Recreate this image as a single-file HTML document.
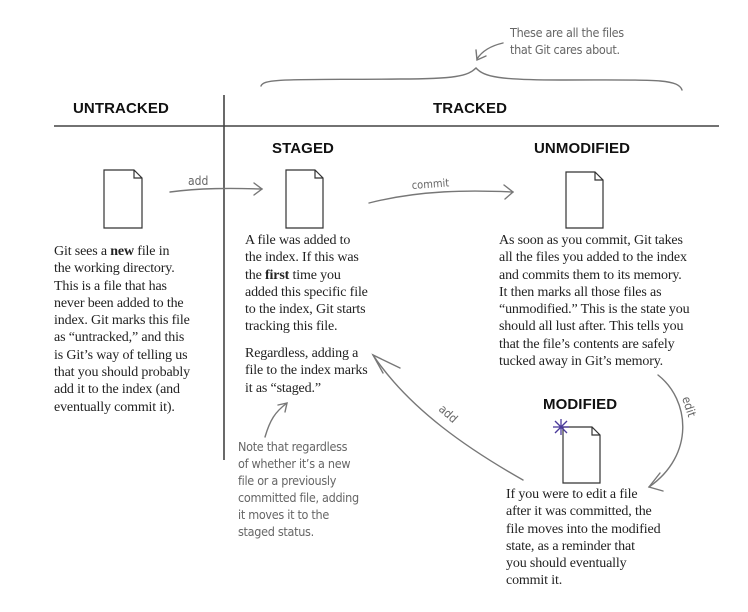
<!DOCTYPE html><html><head><style>
body{margin:0;width:748px;height:612px;background:#fff;position:relative;overflow:hidden}
.h{position:absolute;font:bold 15px/18px "Liberation Sans",sans-serif;color:#111;letter-spacing:0.1px}
.t{position:absolute;font:14px/17.3px "Liberation Serif",serif;color:#222;letter-spacing:-0.15px;white-space:pre}
.n{position:absolute;font:12.5px/17px "DejaVu Sans Condensed","DejaVu Sans",sans-serif;color:#666;white-space:pre;letter-spacing:-0.3px}
svg{position:absolute;left:0;top:0}
</style></head><body>
<svg width="748" height="612">
<g fill="none" stroke="#444" stroke-width="1.6">
<line x1="54" y1="126" x2="719" y2="126"/>
<line x1="224" y1="95" x2="224" y2="460"/>
</g>
<g fill="#fff" stroke="#333" stroke-width="1.2">
<path d="M104 170h30l8 8v50h-38z M134 170v8h8"/>
<path d="M286 170h29l8 8v50h-37z M315 170v8h8"/>
<path d="M566 172h29l8 8v48h-37z M595 172v8h8"/>
<path d="M563 427h29l8 8v48h-37z M592 427v8h8"/>
</g>
<g stroke="#4a3a9a" stroke-width="1.3"><line x1="553" y1="427" x2="569" y2="427"/><line x1="561" y1="419" x2="561" y2="435"/><line x1="555" y1="421" x2="567" y2="433"/><line x1="567" y1="421" x2="555" y2="433"/></g>
<g fill="none" stroke="#777" stroke-width="1.4" stroke-linecap="round">
<path d="M261 86 C264 78 290 80 400 79 C455 79 468 76 476 68 C484 77 500 80 560 80 C650 80 678 78 682 90"/>
<path d="M503 43 C490 46 482 51 477 59"/><path d="M476 50 L477 60 L486 56"/>
<path d="M170 192 C200 188 230 188 262 189"/><path d="M254 183 L262 189 L254 195"/>
<path d="M369 203 C420 190 470 190 513 192"/><path d="M504 185 L513 192 L505 199"/>
<path d="M658 375 C690 400 695 455 649 487"/><path d="M660 473 L649 487 L663 491"/>
<path d="M523 480 C470 450 410 410 373 355"/><path d="M383 373 L373 355 L400 368"/>
<path d="M265 437 C270 420 275 412 287 403"/><path d="M278 405 L287 403 L285 412"/>
</g>
<text x="188" y="185" font-family="DejaVu Sans Condensed,sans-serif" font-size="12" fill="#666">add</text>
<text x="412" y="189" font-family="DejaVu Sans Condensed,sans-serif" font-size="11" fill="#666" transform="rotate(-4 412 189)">commit</text>
<text x="438" y="410" font-family="DejaVu Sans Condensed,sans-serif" font-size="12" fill="#666" transform="rotate(42 438 410)">add</text>
<text x="682" y="398" font-family="DejaVu Sans Condensed,sans-serif" font-size="12" fill="#666" transform="rotate(72 682 398)">edit</text>
</svg>
<div class="n" style="left:510px;top:24px">These are all the files
that Git cares about.</div>
<div class="h" style="left:73px;top:100px">UNTRACKED</div>
<div class="h" style="left:433px;top:100px">TRACKED</div>
<div class="h" style="left:272px;top:140px">STAGED</div>
<div class="h" style="left:534px;top:140px">UNMODIFIED</div>
<div class="h" style="left:543px;top:396px">MODIFIED</div>
<div class="t" style="left:54px;top:243px">Git sees a <b>new</b> file in
the working directory.
This is a file that has
never been added to the
index. Git marks this file
as “untracked,” and this
is Git’s way of telling us
that you should probably
add it to the index (and
eventually commit it).</div>
<div class="t" style="left:245px;top:232px">A file was added to
the index. If this was
the <b>first</b> time you
added this specific file
to the index, Git starts
tracking this file.</div>
<div class="t" style="left:245px;top:345px">Regardless, adding a
file to the index marks
it as “staged.”</div>
<div class="t" style="left:499px;top:232px">As soon as you commit, Git takes
all the files you added to the index
and commits them to its memory.
It then marks all those files as
“unmodified.” This is the state you
should all lust after. This tells you
that the file’s contents are safely
tucked away in Git’s memory.</div>
<div class="t" style="left:506px;top:486px">If you were to edit a file
after it was committed, the
file moves into the modified
state, as a reminder that
you should eventually
commit it.</div>
<div class="n" style="left:238px;top:438px">Note that regardless
of whether it’s a new
file or a previously
committed file, adding
it moves it to the
staged status.</div>
</body></html>
